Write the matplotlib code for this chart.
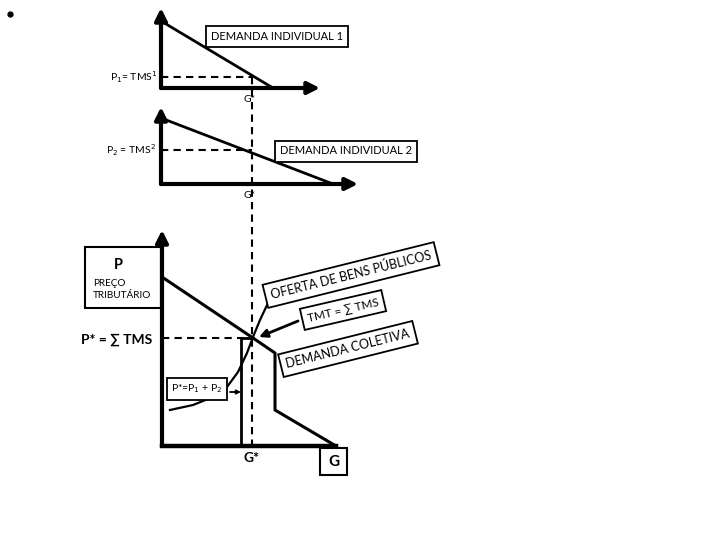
import matplotlib.pyplot as plt

# diagrama em coordenadas de pixel (0..720, 0..540, y para baixo)
plt.rcParams['font.family'] = ['Lato', 'DejaVu Sans']

# eixos (origem, ponta do eixo y, ponta do eixo x)
eixo1 = [(161, 88), (161, 8), (320, 88)]
eixo2 = [(161, 184), (161, 107), (358, 184)]
eixo3 = [(162, 446), (162, 230), (336, 446)]

# curvas de demanda individual
demanda1_x = [161, 273]
demanda1_y = [21, 88]
demanda2_x = [161, 333]
demanda2_y = [118, 184]

# demanda coletiva (soma vertical)
coletiva_x = [162, 253, 275, 275, 336]
coletiva_y = [277, 338, 353, 410, 446]

# oferta de bens publicos
oferta_x = [170, 193, 213, 227, 238, 247, 253, 260, 268]
oferta_y = [410, 405, 397, 387, 372, 353, 337, 320, 303]

# P* = P1 + P2
soma_x = [241, 241, 253]
soma_y = [446, 338, 338]

# linhas tracejadas
g_estrela = 252
p1_nivel = 77
p2_nivel = 150
pstar_nivel = 338
g_linha_y = [77, 446]

fig = plt.figure(figsize=(7.2, 5.4), dpi=100)
ax = fig.add_axes([0, 0, 1, 1])
ax.set_xlim(0, 720)
ax.set_ylim(540, 0)
ax.axis('off')


def seta(ini, fim, lw=3.0, ms=18):
    ax.annotate('', xy=fim, xytext=ini,
                arrowprops=dict(arrowstyle='-|>', lw=lw, color='k',
                                mutation_scale=ms, shrinkA=0, shrinkB=0))


def caixa(x, y, s, size=8, rot=0, weight='normal'):
    ax.text(x, y, s, ha='center', va='center', fontsize=size, rotation=rot,
            rotation_mode='anchor', weight=weight,
            bbox=dict(boxstyle='square,pad=0.45', fc='white', ec='k', lw=1.3))


# eixos com setas
for o, ty, tx in [eixo1, eixo2]:
    seta(o, ty)
    seta(o, tx)
o, ty, tx = eixo3
seta(o, ty)
ax.plot([o[0], tx[0]], [o[1], tx[1]], color='k', lw=3.2, solid_capstyle='projecting')

# tracejados
ax.plot([g_estrela, g_estrela], g_linha_y, 'k--', lw=1.5, dashes=(3.5, 2.5))
ax.plot([161, g_estrela], [p1_nivel, p1_nivel], 'k--', lw=1.5, dashes=(3.5, 2.5))
ax.plot([161, g_estrela], [p2_nivel, p2_nivel], 'k--', lw=1.5, dashes=(3.5, 2.5))
ax.plot([162, 253], [pstar_nivel, pstar_nivel], 'k--', lw=1.5, dashes=(3.5, 2.5))

# curvas
ax.plot(demanda1_x, demanda1_y, color='k', lw=2)
ax.plot(demanda2_x, demanda2_y, color='k', lw=2)
ax.plot(coletiva_x, coletiva_y, color='k', lw=2.2)
ax.plot(oferta_x, oferta_y, color='k', lw=1.6)
ax.plot(soma_x, soma_y, color='k', lw=2)

# rotulos
ax.plot([10], [14], 'ko', ms=3.5)
ax.text(157, p1_nivel, 'P$_1$= TMS$^1$', ha='right', va='center', fontsize=7.5)
ax.text(156, p2_nivel, 'P$_2$ = TMS$^2$', ha='right', va='center', fontsize=7.5)
ax.text(g_estrela - 2, 99, 'G*', ha='center', va='center', fontsize=7.5)
ax.text(g_estrela - 2, 195, 'G*', ha='center', va='center', fontsize=7.5)
caixa(277, 36, 'DEMANDA INDIVIDUAL 1')
caixa(346, 151, 'DEMANDA INDIVIDUAL 2')

# caixa P / preco tributario
ax.add_patch(plt.Rectangle((85, 247), 76, 61, fc='white', ec='k', lw=1.5))
ax.text(118, 265, 'P', ha='center', va='center', fontsize=10.5, weight='bold')
ax.text(93, 283, 'PREÇO', ha='left', va='center', fontsize=7.2)
ax.text(93, 296, 'TRIBUTÁRIO', ha='left', va='center', fontsize=7.2)

ax.text(152, 340, 'P* = ∑ TMS', ha='right', va='center', fontsize=10, weight='bold')
ax.text(g_estrela, 458, 'G*', ha='center', va='center', fontsize=10, weight='bold')
ax.add_patch(plt.Rectangle((320, 448), 27, 27, fc='white', ec='k', lw=1.5))
ax.text(333.5, 461.5, 'G', ha='center', va='center', fontsize=11, weight='bold')

caixa(197, 389, 'P*=P$_1$ + P$_2$', size=7.5)
seta((230, 392), (241, 392), lw=1.3, ms=6)

caixa(351, 275, 'OFERTA DE BENS PÚBLICOS', size=9, rot=14)
caixa(343, 310, 'TMT = ∑ TMS', size=8.5, rot=13)
caixa(348, 349, 'DEMANDA COLETIVA', size=9, rot=14)
seta((298, 321), (259, 337), lw=2, ms=12)

fig.savefig('out.png', dpi=100)
